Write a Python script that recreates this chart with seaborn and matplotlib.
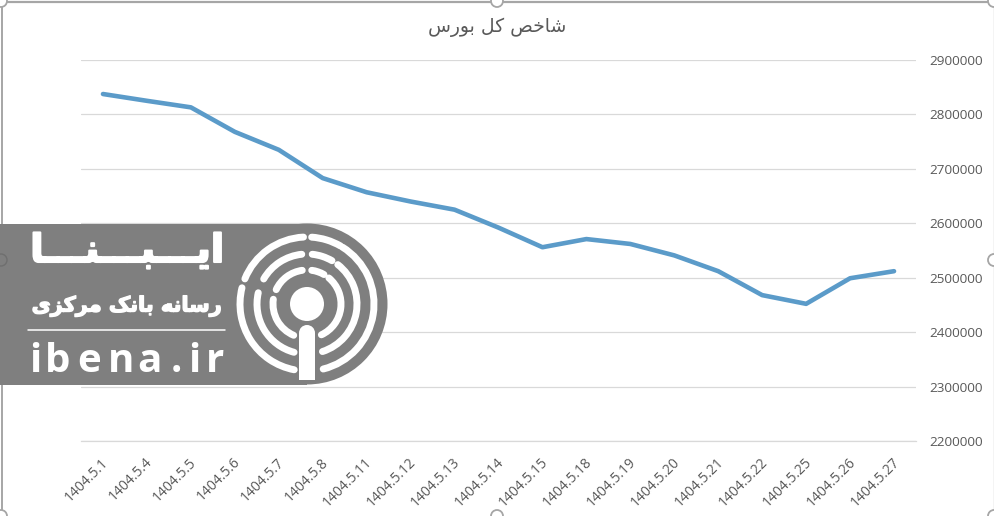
"""
Tehran exchange overall index, Mordad 1404, with the IBENA logo on top.
"""

import matplotlib.patheffects as pe
import matplotlib.pyplot as plt
import pandas as pd
import seaborn as sns
from matplotlib.patches import Arc, Circle, Rectangle
from matplotlib.transforms import ScaledTranslation

dates = ['1404.5.1', '1404.5.4', '1404.5.5', '1404.5.6', '1404.5.7', '1404.5.8',
         '1404.5.11', '1404.5.12', '1404.5.13', '1404.5.14', '1404.5.15', '1404.5.18',
         '1404.5.19', '1404.5.20', '1404.5.21', '1404.5.22', '1404.5.25', '1404.5.26',
         '1404.5.27']
index_values = [2837500, 2825000, 2813000, 2768000, 2735000, 2683000,
                2657000, 2640000, 2625000, 2592000, 2556000, 2571000,
                2562000, 2541000, 2512000, 2468000, 2452000, 2499000,
                2512000]
y_ticks = [2200000, 2300000, 2400000, 2500000, 2600000, 2700000, 2800000, 2900000]


def rtl(forms):
    # matplotlib has no bidi, so the shaped forms go in visual order
    return forms[::-1]


# presentation forms, since matplotlib does not join Arabic letters itself
title_fa = rtl('\ufeb7\ufe8e\ufea7\ufeba \ufb90\ufede \ufe91\ufeee\ufead\ufeb1')
logo_name = rtl('\ufe8d\ufbfe\u0640\u0640\u0640\ufe92\u0640\u0640\u0640\ufee8\u0640\u0640\u0640\ufe8e')
logo_sub = rtl('\ufead\ufeb3\ufe8e\ufee7\ufeea \ufe91\ufe8e\ufee7\ufb8f \ufee3\ufeae\ufb90\ufeb0\ufbfc')

sns.set_theme(style='white')
plt.rcParams['font.family'] = ['Open Sans', 'DejaVu Sans']

W, H = 995, 516
GRAY = '#595959'
PLATE = '#7f7f7f'
fig = plt.figure(figsize=(W / 100, H / 100), dpi=100, facecolor='white')
ax = fig.add_axes([81 / W, 1 - 441 / H, (916 - 81) / W, (441 - 60) / H])

df = pd.DataFrame({'date': dates, 'value': index_values})
sns.lineplot(data=df, x='date', y='value', sort=False, color='#5b9bc9', lw=3.3,
             solid_capstyle='round', solid_joinstyle='round', ax=ax, zorder=3)

ax.set_xlim(-0.5, len(dates) - 0.5)
ax.set_ylim(2200000, 2900000)
ax.set_xlabel('')
ax.set_ylabel('')
ax.set_yticks(y_ticks)
ax.set_yticklabels([str(v) for v in y_ticks])
ax.yaxis.tick_right()
ax.grid(axis='y', color='#d9d9d9', lw=0.9)
ax.grid(axis='x', visible=False)
ax.tick_params(axis='y', length=0, pad=9.5, labelsize=9.7, labelcolor=GRAY)
ax.tick_params(axis='x', length=0, pad=10, labelsize=10, labelcolor=GRAY)
plt.setp(ax.get_xticklabels(), rotation=45, ha='right', rotation_mode='anchor')
nudge = ScaledTranslation(-2 / 100, 0, fig.dpi_scale_trans)
for label in ax.get_xticklabels():
    label.set_transform(label.get_transform() + nudge)
for side in ['top', 'left', 'right']:
    ax.spines[side].set_visible(False)
ax.spines['bottom'].set_color('#d9d9d9')
ax.spines['bottom'].set_linewidth(0.9)

# overlay in pixel coords (y counted up) for selection frame and logo
ov = fig.add_axes([0, 0, 1, 1], facecolor='none')
ov.set_xlim(0, W)
ov.set_ylim(0, H)
ov.axis('off')

ov.text(497.5, H - 27, title_fa, ha='center', va='center', fontsize=13.5, color=GRAY,
        family='DejaVu Sans')

# chart selection frame with its handles
frame = '#a6a6a6'
ov.plot([2, 993], [H - 1.5, H - 1.5], color=frame, lw=1.6)
ov.plot([1.5, 1.5], [0, H], color=frame, lw=1.4)
ov.plot([994, 994], [0, H], color='#c8c8c8', lw=1)
for hx, hy in [(1, H - 1), (497, H - 1), (994, H - 1), (994, H - 260),
               (497, 0), (1, 0), (994, 0)]:
    ov.add_patch(Circle((hx, hy), 6, fc='white', ec=frame, lw=1.3, zorder=2))

# logo plate
cx, cy = 307, H - 304
ov.add_patch(Rectangle((0, H - 385), cx, 161, fc=PLATE, ec='none', zorder=4))
ov.add_patch(Circle((cx, cy), 80.5, fc=PLATE, ec='none', zorder=4))
ov.add_patch(Circle((1, H - 260), 6, fc='none', ec='#6f6f6f', lw=1, zorder=4.5))

rings = [
    (67, [(166, 259), (93, 158), (60, 86), (-76, 58)]),
    (50, [(167, 255), (96, 150), (60, 84), (-72, 52)]),
    (34, [(172, 247), (98, 155), (60, 82), (-65, 50)]),
]
for radius, spans in rings:
    for start, end in spans:
        ov.add_patch(Arc((cx, cy), 2 * radius, 2 * radius, theta1=start, theta2=end,
                         color='white', lw=5, capstyle='round', zorder=5))
ov.add_patch(Circle((cx, cy), 17, fc='white', ec='none', zorder=5))
ov.add_patch(Rectangle((299, H - 380), 16, 47, fc='white', ec='none', zorder=5))
ov.add_patch(Circle((307, H - 333), 8, fc='white', ec='none', zorder=5))

ov.text(127, H - 251, logo_name, ha='center', va='center', fontsize=28, color='white',
        fontweight='bold', family='DejaVu Sans', zorder=5,
        path_effects=[pe.withStroke(linewidth=1.5, foreground='white')])
ov.text(127, H - 306, logo_sub, ha='center', va='center', fontsize=15, color='white',
        fontweight='bold', family='DejaVu Sans', zorder=5,
        path_effects=[pe.withStroke(linewidth=1, foreground='white')])
ov.plot([28, 225], [H - 330, H - 330], color='white', lw=1.1, zorder=5)
for letter, lx in zip('ibena.ir', [35, 58, 89, 121, 149, 176, 194, 215]):
    ov.text(lx, H - 372, letter, ha='center', va='baseline', fontsize=29, color='white',
            fontweight='bold', family='Open Sans', zorder=5)

fig.savefig('out.png', dpi=100)
